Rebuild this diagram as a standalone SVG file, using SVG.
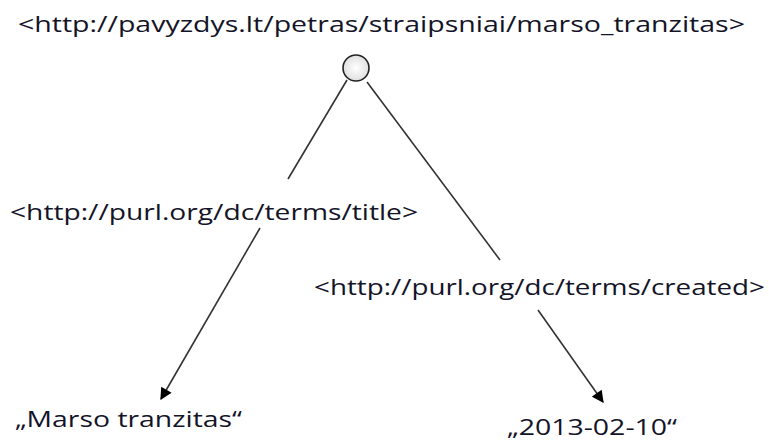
<svg xmlns="http://www.w3.org/2000/svg" width="769" height="441" viewBox="0 0 769 441">
<style>
  text { font-family: "Open Sans", "Liberation Sans", sans-serif; font-size: 22px; fill: #141428; }
  .edge { stroke: #333; stroke-width: 1.6; fill: none; }
  .arrow { marker-end: url(#arrow); }
</style>
<defs>
  <radialGradient id="g" cx="50%" cy="50%" r="50%">
    <stop offset="0" stop-color="#ffffff"/>
    <stop offset="1" stop-color="#e0e0e0"/>
  </radialGradient>
  <marker id="arrow" viewBox="0 0 10 10" refX="9" refY="5" markerWidth="14" markerHeight="12" markerUnits="userSpaceOnUse" orient="auto">
    <path d="M0,0 L10,5 L0,10 z" fill="#000"/>
  </marker>
</defs>
<rect width="769" height="441" fill="#fff"/>
<g id="connectors">
  <path class="edge" d="M347,80 L288,179"/>
  <path class="edge arrow" d="M260,228 L161,399"/>
  <path class="edge" d="M367,82 L500,260"/>
  <path class="edge arrow" d="M538,310 L603,402"/>
</g>
<g id="subject">
  <text x="18" y="32" textLength="727" lengthAdjust="spacingAndGlyphs">&lt;http://pavyzdys.lt/petras/straipsniai/marso_tranzitas&gt;</text>
  <circle cx="356" cy="68" r="13" fill="url(#g)" stroke="#222" stroke-width="1.6"/>
</g>
<g id="label-title">
  <text x="10" y="220" textLength="408" lengthAdjust="spacingAndGlyphs">&lt;http://purl.org/dc/terms/title&gt;</text>
</g>
<g id="label-created">
  <text x="314" y="295" textLength="451" lengthAdjust="spacingAndGlyphs">&lt;http://purl.org/dc/terms/created&gt;</text>
</g>
<g id="object-title">
  <text x="15" y="427" textLength="227" lengthAdjust="spacingAndGlyphs">„Marso tranzitas“</text>
</g>
<g id="object-created">
  <text x="507" y="435" textLength="170" lengthAdjust="spacingAndGlyphs">„2013-02-10“</text>
</g>
</svg>
